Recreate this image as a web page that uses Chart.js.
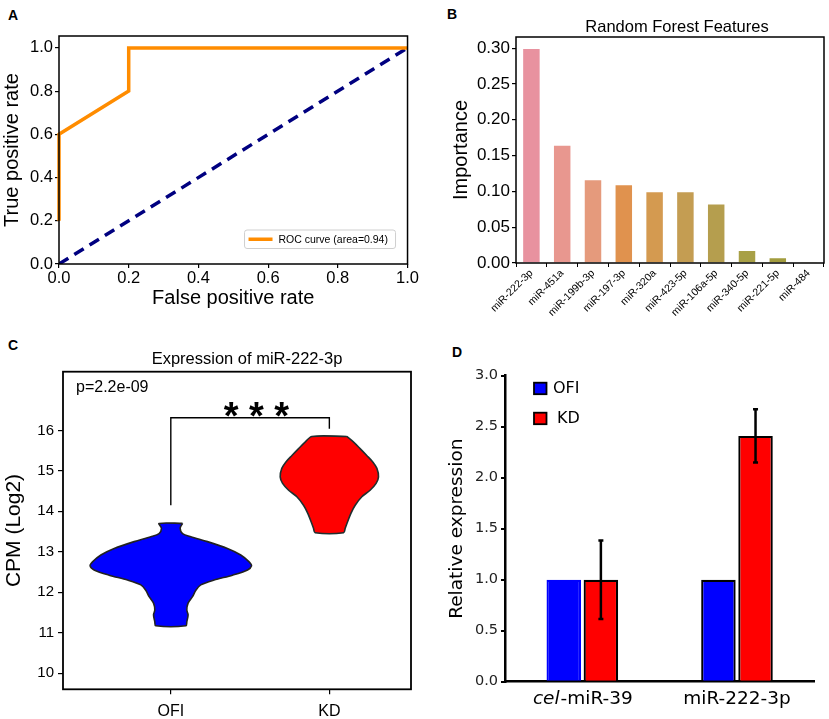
<!DOCTYPE html>
<html><head><meta charset="utf-8">
<script src="https://cdn.jsdelivr.net/npm/chart.js@4.4.1/dist/chart.umd.min.js"></script>
<style>
html,body{margin:0;padding:0;background:#fff;}
body{width:829px;height:719px;position:relative;overflow:hidden;}
canvas{position:absolute;}
.lbl{position:absolute;font-weight:bold;font-size:14px;font-family:"Liberation Sans",Arial,sans-serif;color:#000;line-height:14px;}
</style></head><body>
<div class="lbl" style="left:8px;top:8px">A</div>
<div class="lbl" style="left:447px;top:7px">B</div>
<div class="lbl" style="left:8px;top:338px">C</div>
<div class="lbl" style="left:452px;top:345px">D</div>
<canvas id="cA" width="420" height="315" style="left:0;top:0"></canvas>
<canvas id="cB" width="409" height="330" style="left:420px;top:0"></canvas>
<canvas id="cC" width="420" height="389" style="left:0;top:330px"></canvas>
<canvas id="cD" width="409" height="389" style="left:420px;top:330px"></canvas>
<script>
// ---------- DATA ----------
// Panel A: ROC
const rocFPR = [0, 0, 0.2, 0.2, 1];
const rocTPR = [0.2, 0.6, 0.8, 1, 1];
const chanceFPR = [0, 1];
const chanceTPR = [0, 1];
const rocLabel = 'ROC curve (area=0.94)';
const rocTicks = [0, 0.2, 0.4, 0.6, 0.8, 1.0];

// Panel B: Random forest feature importance
const featureTitle = 'Random Forest Features';
const featureNames = ['miR-222-3p','miR-451a','miR-199b-3p','miR-197-3p','miR-320a','miR-423-5p','miR-106a-5p','miR-340-5p','miR-221-5p','miR-484'];
const featureImportance = [0.300, 0.165, 0.117, 0.110, 0.100, 0.100, 0.083, 0.018, 0.008, 0.0015];
const importanceTicks = [0, 0.05, 0.10, 0.15, 0.20, 0.25, 0.30];

// Panel C: violin plot
const violinTitle = 'Expression of miR-222-3p';
const violinGroups = ['OFI', 'KD'];
const ofiLevels    = [13.70, 13.58, 13.45, 13.37, 13.25, 13.08, 12.92, 12.75, 12.65, 12.55, 12.42, 12.30, 12.18, 12.05, 11.89, 11.73, 11.56, 11.44, 11.27, 11.17];
const ofiHalfWidth = [0.074, 0.059, 0.074, 0.126, 0.231, 0.357, 0.441, 0.494, 0.509, 0.484, 0.389, 0.273, 0.189, 0.158, 0.137, 0.109, 0.101, 0.109, 0.101, 0.095];
const kdLevels     = [15.85, 15.71, 15.55, 15.38, 15.22, 15.06, 14.85, 14.69, 14.52, 14.36, 14.15, 13.95, 13.74, 13.58, 13.47];
const kdHalfWidth  = [0.110, 0.153, 0.194, 0.236, 0.274, 0.300, 0.310, 0.295, 0.257, 0.205, 0.163, 0.136, 0.115, 0.100, 0.090];
const bracketX = [1, 1, 2, 2];
const bracketY = [14.15, 16.31, 16.31, 16.04];
const pValueText = 'p=2.2e-09';
const sigText = '* * *';
const sigPos = [1.54, 16.55];
const cpmTicks = [10, 11, 12, 13, 14, 15, 16];

// Panel D: qPCR
const qpcrTargets = ['cel-miR-39', 'miR-222-3p'];
const qpcrGroups = ['OFI', 'KD'];
const ofiExpr = [1.0, 1.0];
const ofiErr  = [0, 0];
const kdExpr  = [1.0, 2.41];
const kdErr   = [0.385, 0.26];
const relTicks = [0, 0.5, 1.0, 1.5, 2.0, 2.5, 3.0];

// ---------- STYLE ----------
const SANS = '"Liberation Sans", Arial, sans-serif';
const DJV = '"DejaVu Sans", Verdana, sans-serif';
const featureColors = ['#E8929F','#E8978F','#E59A7C','#E0924E','#D49A50','#C49D52','#B59E4E','#A8A046','#A29C3E','#B8B050'];

Chart.defaults.animation = false;
Chart.defaults.color = '#000';

const boxPlugin = {
  id: 'box',
  afterDatasetsDraw(chart, args, opts) {
    const {ctx, chartArea: a} = chart;
    ctx.save();
    ctx.strokeStyle = '#000';
    ctx.lineWidth = opts.width || 1.5;
    ctx.strokeRect(a.left, a.top, a.right - a.left, a.bottom - a.top);
    ctx.restore();
  }
};
const topTitle = {
  id: 'topTitle',
  afterDraw(chart, args, opts) {
    if (!opts.text) return;
    const {ctx, chartArea: a} = chart;
    ctx.save();
    ctx.font = opts.font;
    ctx.fillStyle = '#000';
    ctx.textAlign = 'center';
    ctx.textBaseline = 'middle';
    ctx.fillText(opts.text, (a.left + a.right) / 2 + (opts.dx || 0), a.top - opts.dy);
    ctx.restore();
  }
};
function fixedTicks(arr) { return s => { s.ticks = arr.map(v => ({value: v})); }; }
function pts(xs, ys) { return xs.map((x, i) => ({x, y: ys[i]})); }

// ---------- PANEL A ----------
new Chart(document.getElementById('cA'), {
  type: 'line',
  data: {
    datasets: [
      {label: rocLabel, data: pts(rocFPR, rocTPR), borderColor: '#FF8C00', borderWidth: 3.5, pointRadius: 0, tension: 0, clip: false},
      {label: 'chance', data: pts(chanceFPR, chanceTPR), borderColor: '#000080', borderWidth: 3.5, borderDash: [11, 7], pointRadius: 0, tension: 0}
    ]
  },
  options: {
    responsive: false,
    layout: {padding: {top: 36, right: 11, left: 0, bottom: 0}},
    plugins: {legend: {display: false}, tooltip: {enabled: false}, box: {width: 1.5}},
    scales: {
      x: {type: 'linear', min: 0, max: 1, afterBuildTicks: fixedTicks(rocTicks), afterFit(s){ s.height = 51; },
        grid: {drawOnChartArea: false, tickLength: 4, color: '#000', lineWidth: 1.2}, border: {display: false},
        ticks: {font: {family: SANS, size: 16.5}, padding: 1, maxRotation: 0, callback: v => v.toFixed(1)},
        title: {display: true, text: 'False positive rate', font: {family: SANS, size: 20}, padding: {top: 0, bottom: 5}}},
      y: {type: 'linear', min: 0, max: 1.055, afterBuildTicks: fixedTicks(rocTicks), afterFit(s){ s.width = 59; },
        grid: {drawOnChartArea: false, tickLength: 4, color: '#000', lineWidth: 1.2}, border: {display: false},
        ticks: {font: {family: SANS, size: 16.5}, padding: 2, callback: v => v.toFixed(1)},
        title: {display: true, text: 'True positive rate', font: {family: SANS, size: 20}, padding: {top: 0, bottom: 0}}}
    }
  },
  plugins: [boxPlugin, {
    id: 'rocLegend',
    afterDraw(chart) {
      const {ctx, chartArea: a} = chart;
      const ds = chart.data.datasets[0];
      const x = a.right - 163, y = a.bottom - 34, w = 151, h = 18.5;
      ctx.save();
      ctx.fillStyle = 'rgba(255,255,255,0.85)';
      ctx.strokeStyle = '#cfcfcf';
      ctx.lineWidth = 1;
      ctx.beginPath();
      ctx.roundRect(x, y, w, h, 2.5);
      ctx.fill(); ctx.stroke();
      ctx.strokeStyle = ds.borderColor;
      ctx.lineWidth = 3.5;
      ctx.beginPath();
      ctx.moveTo(x + 4, y + h / 2); ctx.lineTo(x + 28, y + h / 2); ctx.stroke();
      ctx.fillStyle = '#000';
      ctx.font = '10.5px ' + SANS;
      ctx.textBaseline = 'middle';
      ctx.fillText(ds.label, x + 34, y + h / 2 + 0.5);
      ctx.restore();
    }
  }]
});

// ---------- PANEL B ----------
new Chart(document.getElementById('cB'), {
  type: 'bar',
  data: {
    labels: featureNames,
    datasets: [{data: featureImportance, backgroundColor: featureColors, borderColor: 'rgba(255,255,255,0.35)', borderWidth: 1, barPercentage: 0.6, categoryPercentage: 1.0}]
  },
  options: {
    responsive: false,
    layout: {padding: {top: 37, right: 5, left: 0, bottom: 0}},
    plugins: {legend: {display: false}, tooltip: {enabled: false}, box: {width: 1.5},
      topTitle: {text: featureTitle, font: '16.5px ' + SANS, dy: 10, dx: 7}},
    scales: {
      x: {afterFit(s){ s.height = 67; },
        grid: {drawOnChartArea: false, tickLength: 4, color: '#000', lineWidth: 1}, border: {display: false},
        ticks: {font: {family: SANS, size: 10.5}, minRotation: 45, maxRotation: 45, padding: 0, autoSkip: false}},
      y: {type: 'linear', min: 0, max: 0.3155, afterBuildTicks: fixedTicks(importanceTicks), afterFit(s){ s.width = 96; },
        grid: {drawOnChartArea: false, tickLength: 4, color: '#000', lineWidth: 1.2}, border: {display: false},
        ticks: {font: {family: SANS, size: 17}, padding: 2, callback: v => v.toFixed(2)},
        title: {display: true, text: 'Importance', font: {family: SANS, size: 20}, padding: {top: 29, bottom: 0}}}
    }
  },
  plugins: [boxPlugin, topTitle]
});

// ---------- PANEL C ----------
function violin(center, levels, hw) {
  const right = levels.map((y, i) => ({x: center + hw[i], y}));
  const left = levels.map((y, i) => ({x: center - hw[i], y})).reverse();
  const all = right.concat(left);
  all.push(right[0]);
  return all;
}
new Chart(document.getElementById('cC'), {
  type: 'line',
  data: {
    datasets: [
      {label: violinGroups[0], data: violin(1, ofiLevels, ofiHalfWidth), borderColor: '#222', borderWidth: 1.6, backgroundColor: '#0000FF', fill: 'shape', pointRadius: 0, tension: 0.3},
      {label: violinGroups[1], data: violin(2, kdLevels, kdHalfWidth), borderColor: '#1f2f2f', borderWidth: 1.6, backgroundColor: '#FF0000', fill: 'shape', pointRadius: 0, tension: 0.3},
      {label: 'bracket', data: pts(bracketX, bracketY), borderColor: '#000', borderWidth: 1.4, pointRadius: 0, fill: false, tension: 0}
    ]
  },
  options: {
    responsive: false,
    layout: {padding: {top: 41.7, right: 9, left: 0, bottom: 0}},
    plugins: {legend: {display: false}, tooltip: {enabled: false}, box: {width: 1.8},
      topTitle: {text: violinTitle, font: '16.5px ' + SANS, dy: 12, dx: 10}},
    scales: {
      x: {type: 'linear', min: 0.32, max: 2.515, afterBuildTicks: fixedTicks([1, 2]), afterFit(s){ s.height = 29.7; },
        grid: {drawOnChartArea: false, tickLength: 5, color: '#000', lineWidth: 1.2}, border: {display: false},
        ticks: {font: {family: SANS, size: 16}, padding: 8, maxRotation: 0, callback: v => violinGroups[v - 1]}},
      y: {type: 'linear', min: 9.6, max: 17.45, afterBuildTicks: fixedTicks(cpmTicks), afterFit(s){ s.width = 63; },
        grid: {drawOnChartArea: false, tickLength: 5, color: '#000', lineWidth: 1.2}, border: {display: false},
        ticks: {font: {family: SANS, size: 15}, padding: 4, callback: v => String(v)},
        title: {display: true, text: 'CPM (Log2)', font: {family: SANS, size: 21}, padding: {top: 2, bottom: 0}}}
    }
  },
  plugins: [boxPlugin, topTitle, {
    id: 'annot',
    afterDraw(chart) {
      const {ctx, chartArea: a, scales: {x, y}} = chart;
      ctx.save();
      ctx.fillStyle = '#000';
      ctx.font = '16px ' + SANS;
      ctx.textBaseline = 'middle';
      ctx.fillText(pValueText, a.left + 13, a.top + 16);
      ctx.font = 'bold 38px ' + SANS;
      ctx.textAlign = 'center';
      ctx.fillText(sigText, x.getPixelForValue(sigPos[0]), y.getPixelForValue(sigPos[1]) + 10);
      ctx.restore();
    }
  }]
});

// ---------- PANEL D ----------
const errorBars = {
  id: 'errorBars',
  afterDatasetsDraw(chart) {
    const {ctx} = chart;
    const errs = [ofiErr, kdErr];
    ctx.save();
    ctx.strokeStyle = '#000';
    ctx.lineWidth = 2.5;
    chart.data.datasets.forEach((ds, di) => {
      const meta = chart.getDatasetMeta(di);
      meta.data.forEach((bar, i) => {
        const e = errs[di][i];
        if (!e) return;
        const yS = chart.scales.y;
        const v = ds.data[i];
        const top = yS.getPixelForValue(v + e), bot = yS.getPixelForValue(v - e);
        ctx.beginPath();
        ctx.moveTo(bar.x, top); ctx.lineTo(bar.x, bot);
        ctx.moveTo(bar.x - 2.5, top); ctx.lineTo(bar.x + 2.5, top);
        ctx.moveTo(bar.x - 2.5, bot); ctx.lineTo(bar.x + 2.5, bot);
        ctx.stroke();
      });
    });
    ctx.restore();
  }
};
const qpcrLabels = {
  id: 'qpcrLabels',
  afterDraw(chart) {
    const {ctx, chartArea: a, scales: {x}} = chart;
    ctx.save();
    ctx.fillStyle = '#000';
    ctx.textBaseline = 'middle';
    const fn = '18.5px ' + DJV, fi = 'italic 18.5px ' + DJV;
    qpcrTargets.forEach((lab, i) => {
      const cx = x.getPixelForValue(i);
      const m = lab.match(/^(cel)(-.*)$/);
      const y = a.bottom + 17;
      if (m) {
        ctx.font = fi; const w1 = ctx.measureText(m[1]).width;
        ctx.font = fn; const w2 = ctx.measureText(m[2]).width;
        let sx = cx - (w1 + w2) / 2;
        ctx.textAlign = 'left';
        ctx.font = fi; ctx.fillText(m[1], sx, y);
        ctx.font = fn; ctx.fillText(m[2], sx + w1 + 1, y);
      } else {
        ctx.font = fn; ctx.textAlign = 'center'; ctx.fillText(lab, cx, y);
      }
    });
    // legend
    chart.data.datasets.forEach((ds, i) => {
      const lx = a.left + 29, ly = a.top + 7 + i * 30;
      ctx.fillStyle = ds.backgroundColor;
      ctx.fillRect(lx, ly, 12.5, 11.5);
      ctx.strokeStyle = '#000'; ctx.lineWidth = 1.8;
      ctx.strokeRect(lx, ly, 12.5, 11.5);
      ctx.fillStyle = '#000';
      ctx.font = '16px ' + DJV;
      ctx.textAlign = 'left';
      ctx.fillText(ds.label, lx + 19 + (i ? 4 : 0), ly + 6);
    });
    ctx.restore();
  }
};
new Chart(document.getElementById('cD'), {
  type: 'bar',
  data: {
    labels: qpcrTargets,
    datasets: [
      {label: qpcrGroups[0], data: ofiExpr, backgroundColor: '#0000FF', borderColor: ['#0000FF', '#000'], borderWidth: 2.2, borderSkipped: 'bottom', barPercentage: 0.93, categoryPercentage: 0.48},
      {label: qpcrGroups[1], data: kdExpr, backgroundColor: '#FF0000', borderColor: '#000', borderWidth: 2.2, borderSkipped: 'bottom', barPercentage: 0.93, categoryPercentage: 0.48}
    ]
  },
  options: {
    responsive: false,
    layout: {padding: {top: 45.7, right: 14.7, left: 0, bottom: 0}},
    plugins: {legend: {display: false}, tooltip: {enabled: false}},
    scales: {
      x: {afterFit(s){ s.height = 37.3; },
        grid: {display: false}, border: {display: true, color: '#000', width: 2.5},
        ticks: {display: false}},
      y: {type: 'linear', min: 0, max: 3.0, afterBuildTicks: fixedTicks(relTicks), afterFit(s){ s.width = 85; },
        grid: {drawOnChartArea: false, tickLength: 4, color: '#000', lineWidth: 2}, border: {display: true, color: '#000', width: 2.5},
        ticks: {font: {family: DJV, size: 14.5}, color: '#222', padding: 3, callback: v => v.toFixed(1)},
        title: {display: true, text: 'Relative expression', font: {family: DJV, size: 18.5}, padding: {top: 26, bottom: 0}}}
    }
  },
  plugins: [errorBars, qpcrLabels]
});
</script>
</body></html>
